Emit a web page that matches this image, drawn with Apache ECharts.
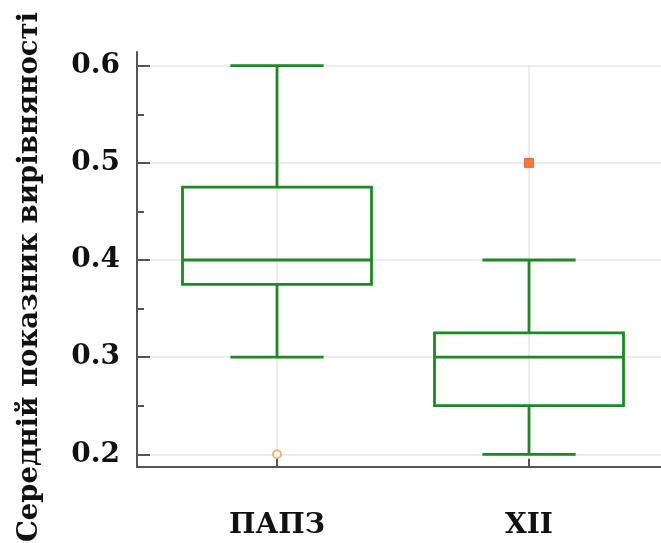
<!DOCTYPE html>
<html>
<head>
<meta charset="utf-8">
<script src="https://cdn.jsdelivr.net/npm/echarts@6/dist/echarts.min.js"></script>
<style>html,body{margin:0;padding:0;background:#fff;}#c{width:661px;height:543px;}</style>
</head>
<body>
<div id="c"></div>
<script>
const categories = ['ПАПЗ', 'ХІІ'];
const mins = [0.3, 0.2];
const q1s = [0.375, 0.25];
const medians = [0.4, 0.3];
const q3s = [0.475, 0.325];
const maxs = [0.6, 0.4];
const circleOutliers = [[0, 0.2]];
const squareOutliers = [[1, 0.5]];
const yTickValues = [0.2, 0.3, 0.4, 0.5, 0.6];
const yTitle = 'Середній показник вирівняності';

const GREEN = '#1b8a22';
const FONT = 'DejaVu Serif';
const boxData = categories.map((c, i) => [i, mins[i], q1s[i], medians[i], q3s[i], maxs[i]]);

const chart = echarts.init(document.getElementById('c'));
chart.setOption({
  animation: false,
  backgroundColor: '#fff',
  grid: [
    {left: 277, right: 132, top: 65.7, bottom: 88.7},
    {left: 137, right: 0, top: 65.7, bottom: 88.7},
    {left: 137, right: 0, top: 52, bottom: 76.3}
  ],
  xAxis: [
    {gridIndex: 0, type: 'category', data: categories, boundaryGap: false, offset: 12.4,
     axisLine: {show: false},
     axisTick: {show: true, inside: true, length: 8, lineStyle: {color: '#555', width: 2}},
     axisLabel: {margin: 45, fontFamily: FONT, fontWeight: 'bold', fontSize: 28, color: '#111'},
     splitLine: {show: true, lineStyle: {color: '#e6e6e6', width: 1.5}}},
    {gridIndex: 1, type: 'value', min: 0, max: 1, show: false},
    {gridIndex: 2, type: 'value', min: 0, max: 1,
     axisLine: {show: true, lineStyle: {color: '#555', width: 2}},
     axisTick: {show: false}, axisLabel: {show: false}, splitLine: {show: false}}
  ],
  yAxis: [
    {gridIndex: 0, type: 'value', min: yTickValues[0], max: yTickValues[yTickValues.length - 1], show: false},
    {gridIndex: 1, type: 'value', min: yTickValues[0], max: yTickValues[yTickValues.length - 1], interval: 0.1,
     axisLine: {show: false},
     axisTick: {show: true, inside: true, length: 13, lineStyle: {color: '#555', width: 2}},
     minorTick: {show: true, splitNumber: 2, length: 7, lineStyle: {color: '#555', width: 2}},
     axisLabel: {margin: 17, fontFamily: FONT, fontWeight: 'bold', fontSize: 28, color: '#111',
                 formatter: v => v.toFixed(1)},
     splitLine: {show: true, lineStyle: {color: '#e6e6e6', width: 1.5}}},
    {gridIndex: 2, type: 'value', min: 0, max: 1,
     axisLine: {show: true, lineStyle: {color: '#555', width: 2}},
     axisTick: {show: false}, axisLabel: {show: false}, splitLine: {show: false}}
  ],
  graphic: [{
    type: 'text', x: 30, y: 277, rotation: Math.PI / 2,
    style: {text: yTitle, font: 'bold 27.5px "DejaVu Serif"', fill: '#111', align: 'center', verticalAlign: 'middle'}
  }],
  series: [
    {
      type: 'custom', xAxisIndex: 0, yAxisIndex: 0, clip: false, z: 5,
      data: boxData,
      encode: {x: 0, y: [1, 2, 3, 4, 5]},
      renderItem: function (params, api) {
        const i = api.value(0);
        const lo = api.coord([i, api.value(1)]);
        const q1 = api.coord([i, api.value(2)]);
        const md = api.coord([i, api.value(3)]);
        const q3 = api.coord([i, api.value(4)]);
        const hi = api.coord([i, api.value(5)]);
        const band = api.size([1, 0])[0];
        const bw = band * 0.75, cw = band * 0.37;
        const x = lo[0];
        const st = {stroke: GREEN, lineWidth: 2.8, fill: null};
        return {
          type: 'group',
          children: [
            {type: 'rect', shape: {x: x - bw / 2, y: q3[1], width: bw, height: q1[1] - q3[1]}, style: st},
            {type: 'line', shape: {x1: x - bw / 2, y1: md[1], x2: x + bw / 2, y2: md[1]}, style: st},
            {type: 'line', shape: {x1: x, y1: q3[1], x2: x, y2: hi[1]}, style: st},
            {type: 'line', shape: {x1: x, y1: q1[1], x2: x, y2: lo[1]}, style: st},
            {type: 'line', shape: {x1: x - cw / 2, y1: hi[1], x2: x + cw / 2, y2: hi[1]}, style: st},
            {type: 'line', shape: {x1: x - cw / 2, y1: lo[1], x2: x + cw / 2, y2: lo[1]}, style: st}
          ]
        };
      }
    },
    {
      type: 'scatter', xAxisIndex: 0, yAxisIndex: 0, clip: false, z: 6,
      data: circleOutliers, symbol: 'circle', symbolSize: 8,
      itemStyle: {color: '#fff', borderColor: '#f2a05a', borderWidth: 2}
    },
    {
      type: 'scatter', xAxisIndex: 0, yAxisIndex: 0, clip: false, z: 6,
      data: squareOutliers, symbol: 'rect', symbolSize: 9,
      itemStyle: {color: '#ff5a00', borderColor: '#e84a3a', borderWidth: 1}
    }
  ]
});
</script>
</body>
</html>
